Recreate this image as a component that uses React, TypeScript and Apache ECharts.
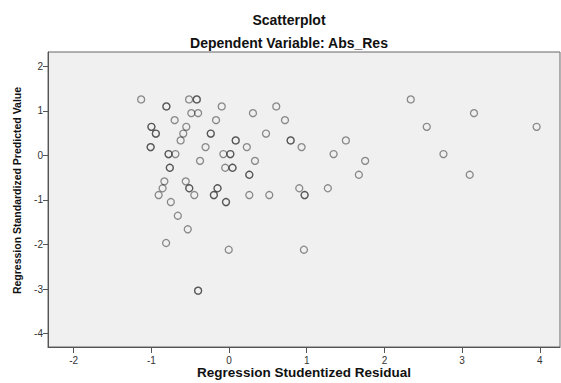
import React, { useEffect, useRef } from "react";
import * as echarts from "echarts";

const titleText = "Scatterplot";
const subtitleText = "Dependent Variable: Abs_Res";
const xName = "Regression Studentized Residual";
const yName = "Regression Standardized Predicted Value";
const xTicks = [-2, -1, 0, 1, 2, 3, 4];
const yTicks = [2, 1, 0, -1, -2, -3, -4];

// Regression Studentized Residual (x) — repeated entries are overlapping cases
const residualX = [
  -1.131, -0.806, -0.806, -0.514, -0.415, -0.415, -0.094, 0.608,
  -0.485, -0.398, 0.308, -0.7, -0.167, 0.72,
  -0.999, -0.999, -0.55, -0.942, -0.942, -0.589, -0.235, -0.235, 0.476,
  -0.623, 0.086, 0.086, 0.793, 0.793, 1.504,
  -1.009, -1.009, -0.302, 0.229, 0.934,
  -0.778, -0.778, -0.69, -0.073, 0.017, 0.017, 1.346, 2.76,
  -0.373, 0.334, 1.752,
  -0.762, -0.762, -0.049, 0.045, 0.045,
  0.261, 0.261, 1.671, 3.098,
  -0.832, -0.557,
  -0.855, -0.512, -0.512, -0.148, -0.148, 0.904, 1.272,
  -0.906, -0.447, -0.195, -0.195, 0.261, 0.518, 0.973, 0.973,
  -0.749, -0.039, -0.039,
  -0.659, -0.531, -0.81, -0.004, 0.964, -0.398, -0.398,
  2.339, 3.153, 2.545, 3.959,
];

// Regression Standardized Predicted Value (y)
const predictedY = [
  1.256, 1.099, 1.099, 1.256, 1.256, 1.256, 1.099, 1.099,
  0.948, 0.948, 0.948, 0.791, 0.791, 0.791,
  0.641, 0.641, 0.641, 0.489, 0.489, 0.489, 0.489, 0.489, 0.489,
  0.336, 0.336, 0.336, 0.336, 0.336, 0.336,
  0.186, 0.186, 0.186, 0.186, 0.186,
  0.029, 0.029, 0.029, 0.029, 0.029, 0.029, 0.029, 0.029,
  -0.123, -0.123, -0.123,
  -0.278, -0.278, -0.278, -0.278, -0.278,
  -0.435, -0.435, -0.435, -0.435,
  -0.583, -0.583,
  -0.738, -0.738, -0.738, -0.738, -0.738, -0.738, -0.738,
  -0.89, -0.89, -0.89, -0.89, -0.89, -0.89, -0.89, -0.89,
  -1.047, -1.047, -1.047,
  -1.354, -1.659, -1.966, -2.117, -2.117, -3.036, -3.036,
  1.256, 0.948, 0.641, 0.641,
];

const FONT = "'Liberation Sans', Arial, sans-serif";

export default function App() {
  const ref = useRef<HTMLDivElement>(null);

  useEffect(() => {
    if (!ref.current) return;
    const chart = echarts.init(ref.current, null, { renderer: "svg" });
    const points = residualX.map((x, i) => [x, predictedY[i]]);
    chart.setOption({
      animation: false,
      backgroundColor: "#ffffff",
      title: [
        {
          text: titleText,
          left: 284,
          textAlign: "center",
          top: 8,
          textStyle: { fontFamily: FONT, fontSize: 14, fontWeight: "bold", color: "#111" },
        },
        {
          text: subtitleText,
          left: 284,
          textAlign: "center",
          top: 31,
          textStyle: { fontFamily: FONT, fontSize: 14, fontWeight: "bold", color: "#111" },
        },
      ],
      grid: {
        left: 48,
        right: 1,
        top: 52,
        bottom: 36,
        outerBoundsMode: "none",
        containLabel: false,
        show: true,
        backgroundColor: "#f0f0f0",
        borderColor: "#666",
        borderWidth: 1,
      },
      xAxis: {
        type: "value",
        min: -2.33,
        max: 4.26,
        name: xName,
        nameLocation: "middle",
        nameGap: 18,
        nameMoveOverlap: false,
        nameTextStyle: { fontFamily: FONT, fontSize: 13.5, fontWeight: "bold", color: "#111" },
        axisLine: { show: true, onZero: false, lineStyle: { color: "#555" } },
        axisTick: { show: true, length: 6, customValues: xTicks, lineStyle: { color: "#555" } },
        axisLabel: {
          customValues: xTicks,
          fontFamily: FONT,
          fontSize: 10,
          color: "#333",
          margin: 8,
        },
        splitLine: { show: false },
      },
      yAxis: {
        type: "value",
        min: -4.3,
        max: 2.32,
        name: yName,
        nameLocation: "middle",
        nameGap: 26,
        nameMoveOverlap: false,
        nameTextStyle: {
          fontFamily: FONT,
          fontSize: 10.5,
          fontWeight: "bold",
          color: "#111",
          padding: [0, 0, 0, 18],
        },
        axisLine: { show: true, onZero: false, lineStyle: { color: "#555" } },
        axisTick: { show: true, length: 5, customValues: yTicks, lineStyle: { color: "#555" } },
        axisLabel: {
          customValues: yTicks,
          fontFamily: FONT,
          fontSize: 10,
          color: "#333",
          margin: 5,
        },
        splitLine: { show: false },
      },
      series: [
        {
          type: "scatter",
          data: points,
          symbol: "circle",
          symbolSize: 7,
          itemStyle: {
            color: "rgba(0,0,0,0)",
            borderColor: "rgba(40,40,40,0.65)",
            borderWidth: 1.3,
          },
          emphasis: { disabled: true },
        },
      ],
    });
    return () => chart.dispose();
  }, []);

  return (
    <div
      ref={ref}
      style={{ position: "fixed", left: 0, top: 0, width: 561, height: 383 }}
    />
  );
}
